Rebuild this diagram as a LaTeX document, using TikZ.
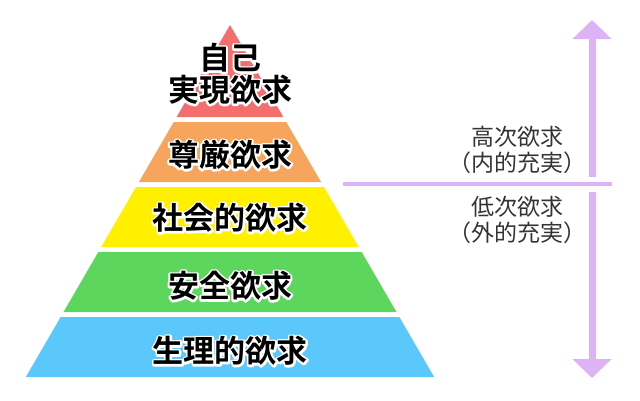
\documentclass[tikz,border=0pt]{standalone}
\usepackage{fontspec}
\usetikzlibrary{arrows.meta}
\newfontfamily\jp{Noto Sans CJK JP}
\newfontfamily\jpb{Noto Sans CJK JP Bold}
\definecolor{tierblue}{HTML}{5AC8FA}
\definecolor{tiergreen}{HTML}{5CD65C}
\definecolor{tieryellow}{HTML}{FFF000}
\definecolor{tierorange}{HTML}{F7A45C}
\definecolor{tierred}{HTML}{F46E6E}
\definecolor{lav}{HTML}{DDB3F5}
\definecolor{sidetext}{HTML}{333333}
\newcommand{\halotext}[1]{\special{pdf:code q 1 Tr 1 1 1 RG 4 w 1 j 1 J}#1\special{pdf:code Q}}
\tikzset{
  tierlabel/.style={font=\jpb\fontsize{31}{36}\selectfont, text=black, inner sep=0pt, align=center},
  sidelabel/.style={font=\jp\fontsize{23}{26}\selectfont, text=sidetext, inner sep=0pt, align=center},
  lavline/.style={draw=lav, line width=7pt},
  lavarrow/.style={lavline, -{Triangle[width=38pt,length=19pt]}}
}
\newcommand{\tier}[3]{% y_top, y_bottom, color
  \fill[#3] ({230-0.58*(#1-25)},#1) -- ({230+0.58*(#1-25)},#1) -- ({230+0.58*(#2-25)},#2) -- ({230-0.58*(#2-25)},#2) -- cycle;
}
\newcommand{\tierlab}[3]{% name, position, text
  \node[tierlabel] (#1h) at (#2) {\halotext{#3}};
  \node[tierlabel] (#1) at (#2) {#3};
}
\begin{document}
\begin{tikzpicture}[x=1pt,y=-1pt]
\useasboundingbox (0,0) rectangle (640,400);
% pyramid tiers
\fill[tierred] (230,25) -- ({230+0.58*92},117) -- ({230-0.58*92},117) -- cycle;
\tier{122}{182}{tierorange}
\tier{187}{247}{tieryellow}
\tier{252}{312}{tiergreen}
\tier{317}{377}{tierblue}
% labels
\tierlab{selfA}{230,58}{自己}
\tierlab{selfB}{230,90}{実現欲求}
\tierlab{esteem}{230,155}{尊厳欲求}
\tierlab{social}{230,218}{社会的欲求}
\tierlab{safety}{230,286}{安全欲求}
\tierlab{physio}{230,351}{生理的欲求}
% right side
\coordinate (upS) at (592,177);
\coordinate (upT) at (592,20);
\coordinate (dnS) at (592,192);
\coordinate (dnT) at (592,378);
\coordinate (hL) at (343,184);
\coordinate (hR) at (612,184);
\draw[lavarrow] (upS) -- (upT);
\draw[lavarrow] (dnS) -- (dnT);
\draw[draw=lav, line width=4.5pt] (hL) -- (hR);
\node[sidelabel] (highA) at (517,137) {高次欲求};
\node[sidelabel] (highB) at (517,163) {（内的充実）};
\node[sidelabel] (lowA) at (517,207) {低次欲求};
\node[sidelabel] (lowB) at (517,233) {（外的充実）};
\end{tikzpicture}
\end{document}
